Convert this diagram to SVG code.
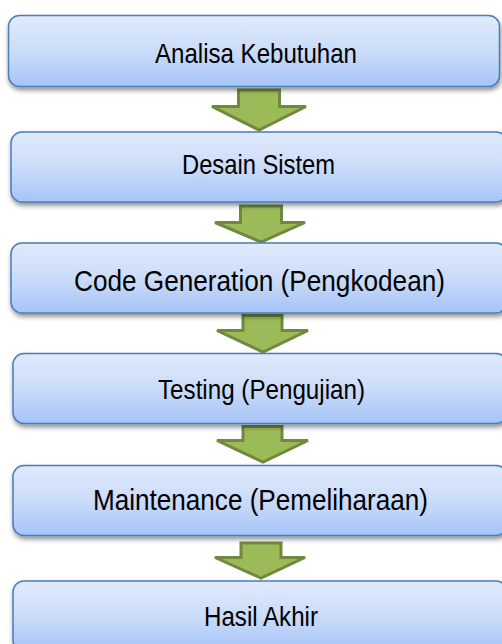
<svg xmlns="http://www.w3.org/2000/svg" width="502" height="644" viewBox="0 0 502 644">
<defs>
<linearGradient id="boxg" x1="0" y1="0" x2="0" y2="1">
<stop offset="0" stop-color="#E0EAFC"/>
<stop offset="0.5" stop-color="#CBDCFA"/>
<stop offset="1" stop-color="#A5C4F7"/>
</linearGradient>
<filter id="sh" x="-5%" y="-10%" width="110%" height="130%">
<feGaussianBlur in="SourceAlpha" stdDeviation="2.5"/>
<feOffset dx="1" dy="3" result="b"/>
<feComponentTransfer><feFuncA type="linear" slope="0.45"/></feComponentTransfer>
<feMerge><feMergeNode/><feMergeNode in="SourceGraphic"/></feMerge>
</filter>
<style>
.box{fill:url(#boxg);stroke:#4A7EBB;stroke-width:1.5;filter:url(#sh);}
.t{font-family:"Liberation Sans",Arial,sans-serif;fill:#000;text-anchor:middle;}
.arr{fill:#9BBB59;stroke:#71893F;stroke-width:3;stroke-linejoin:miter;}
</style>
</defs>
<rect width="502" height="644" fill="#FFFFFF"/>
<g id="connectors">
<path class="arr" d="M238.5,90 H279.5 V106.5 H306 L259,130 L212,106.5 H238.5 Z"/>
<path class="arr" d="M240.5,206 H281.5 V222.5 H305 L261,242 L215,222.5 H240.5 Z"/>
<path class="arr" d="M243,315.5 H282 V330.5 H308 L263,352 L217,330.5 H243 Z"/>
<path class="arr" d="M243,426.5 H282 V440.5 H308 L263,462 L217,440.5 H243 Z"/>
<path class="arr" d="M241,543 H281 V557.5 H305 L261,578 L215,557.5 H241 Z"/>
</g>
<g id="n1">
<rect class="box" x="8.5" y="15.5" width="491" height="71" rx="11"/>
<text class="t" x="256" y="63" font-size="27.5" textLength="202" lengthAdjust="spacingAndGlyphs">Analisa Kebutuhan</text>
</g>
<g id="n2">
<rect class="box" x="11" y="132" width="496" height="70" rx="11"/>
<text class="t" x="258.5" y="173.5" font-size="27.5" textLength="153" lengthAdjust="spacingAndGlyphs">Desain Sistem</text>
</g>
<g id="n3">
<rect class="box" x="11" y="243" width="496" height="70" rx="11"/>
<text class="t" x="259.5" y="291" font-size="30" textLength="371" lengthAdjust="spacingAndGlyphs">Code Generation (Pengkodean)</text>
</g>
<g id="n4">
<rect class="box" x="13" y="353.5" width="494" height="70" rx="11"/>
<text class="t" x="261.5" y="399" font-size="27.5" textLength="207" lengthAdjust="spacingAndGlyphs">Testing (Pengujian)</text>
</g>
<g id="n5">
<rect class="box" x="13" y="465.5" width="494" height="70" rx="11"/>
<text class="t" x="260.5" y="510" font-size="30" textLength="335" lengthAdjust="spacingAndGlyphs">Maintenance (Pemeliharaan)</text>
</g>
<g id="n6">
<rect class="box" x="13" y="581" width="494" height="70" rx="11"/>
<text class="t" x="261" y="626" font-size="27.5" textLength="114" lengthAdjust="spacingAndGlyphs">Hasil Akhir</text>
</g>
</svg>
